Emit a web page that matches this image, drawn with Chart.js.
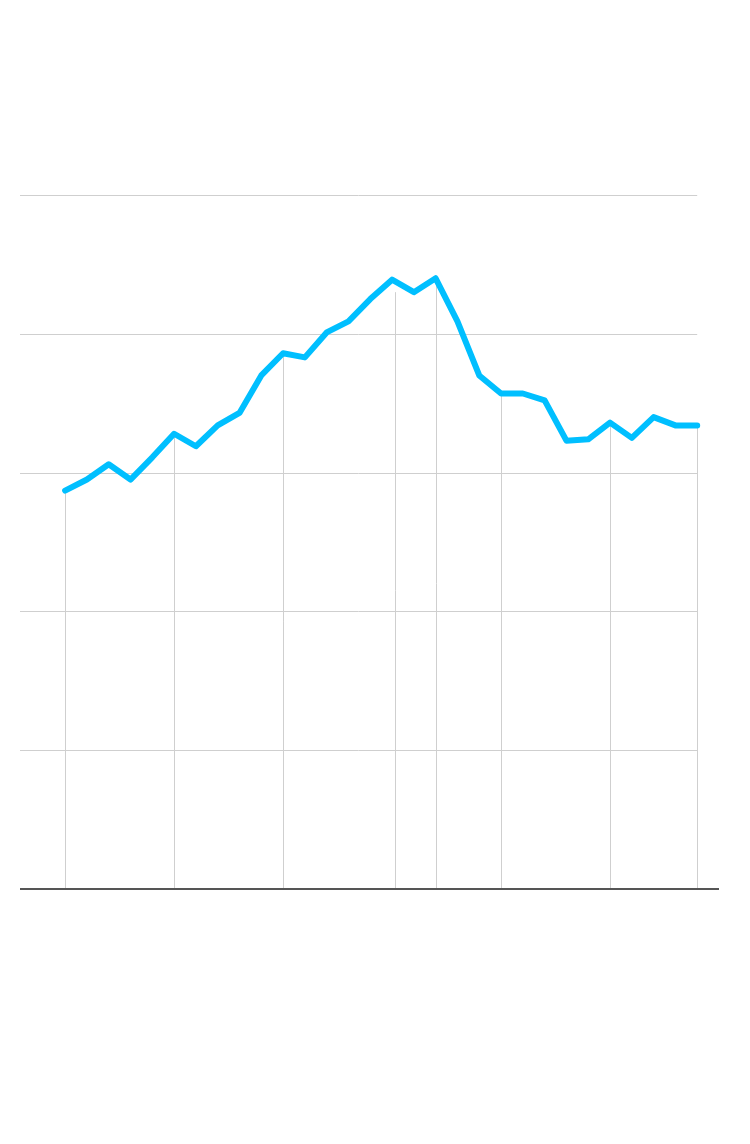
<!DOCTYPE html>
<html>
<head>
<meta charset="utf-8">
<script src="https://cdn.jsdelivr.net/npm/chart.js@4"></script>
<style>
  html, body { margin: 0; padding: 0; background: #fff; }
  #wrap { width: 750px; height: 1144px; position: relative; }
</style>
</head>
<body>
<div id="wrap"><canvas id="lineChart"></canvas></div>
<script>
// values, one per step
const values = [
  2.87, 2.95, 3.06, 2.95, 3.11, 3.28, 3.19, 3.34, 3.43, 3.70,
  3.86, 3.83, 4.01, 4.09, 4.25, 4.39, 4.30, 4.40, 4.09, 3.70,
  3.57, 3.57, 3.52, 3.23, 3.24, 3.36, 3.25, 3.40, 3.34, 3.34
];
// vertical drop lines: where they stand on the step axis and where they start
const dropSteps = [0, 5, 10, 15.15, 17, 20, 25, 29];
const dropTops  = [2.87, 3.28, 3.86, 4.30, 4.40, 3.57, 3.36, 3.34];
const yTicks = [1, 2, 3, 4, 5];

const points = values.map((v, i) => ({ x: i, y: v }));

// gridlines, drop lines and the baseline
const guides = {
  id: 'guides',
  beforeDatasetsDraw(chart) {
    const { ctx, chartArea, scales } = chart;
    const x = scales.x, y = scales.y;
    const lastX = x.getPixelForValue(values.length - 1);
    ctx.save();
    ctx.lineWidth = 1;
    ctx.strokeStyle = '#cfcfcf';
    yTicks.forEach(t => {
      const py = Math.round(y.getPixelForValue(t)) + 0.5;
      ctx.beginPath();
      ctx.moveTo(chartArea.left, py);
      ctx.lineTo(lastX, py);
      ctx.stroke();
    });
    dropSteps.forEach((s, i) => {
      const px = Math.round(x.getPixelForValue(s)) + 0.5;
      ctx.beginPath();
      ctx.moveTo(px, y.getPixelForValue(dropTops[i]));
      ctx.lineTo(px, y.getPixelForValue(0));
      ctx.stroke();
    });
    ctx.lineWidth = 2;
    ctx.strokeStyle = '#555';
    const by = y.getPixelForValue(0);
    ctx.beginPath();
    ctx.moveTo(chartArea.left, by);
    ctx.lineTo(chartArea.right, by);
    ctx.stroke();
    ctx.restore();
  }
};

new Chart(document.getElementById('lineChart').getContext('2d'), {
  type: 'line',
  data: {
    datasets: [{
      data: points,
      borderColor: '#00bfff',
      borderWidth: 6,
      borderCapStyle: 'round',
      borderJoinStyle: 'round',
      pointRadius: 0,
      tension: 0,
      fill: false
    }]
  },
  options: {
    responsive: true, maintainAspectRatio: false, animation: false,
    layout: { padding: { left: 20, right: 31, top: 195, bottom: 255 } },
    plugins: { legend: { display: false }, tooltip: { enabled: false } },
    scales: {
      x: { type: 'linear', min: -2.07, max: 30, display: false },
      y: { min: 0, max: 5, display: false }
    }
  },
  plugins: [guides]
});
</script>
</body>
</html>
